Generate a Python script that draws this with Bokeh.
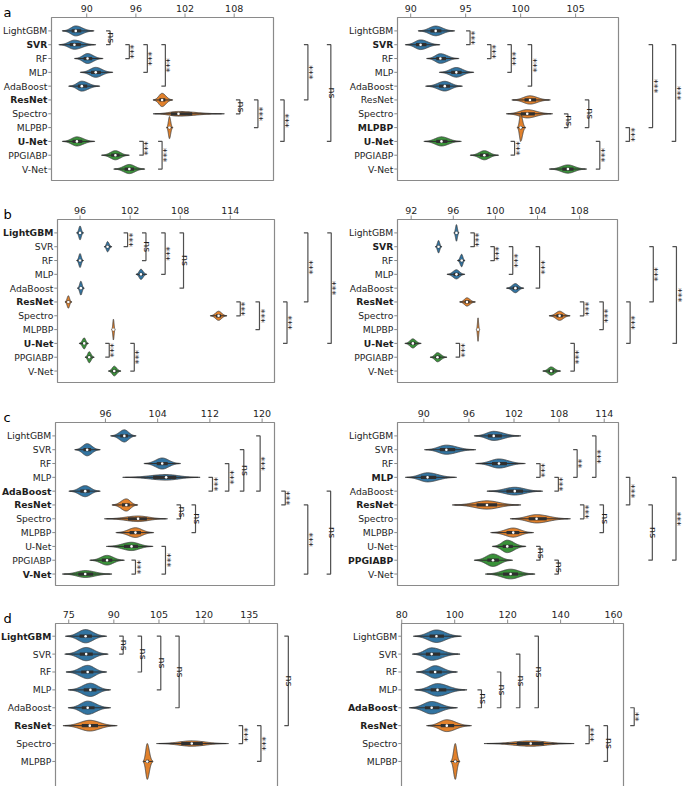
import numpy as np
from bokeh.plotting import figure
from bokeh.models import Range1d, ColumnDataSource
from bokeh.layouts import gridplot
from bokeh.embed import file_html
from bokeh.resources import INLINE
from bokeh.core.properties import value

MODELS = ["LightGBM", "SVR", "RF", "MLP", "AdaBoost", "ResNet", "Spectro",
          "MLPBP", "U-Net", "PPGIABP", "V-Net"]
GROUP = [0, 0, 0, 0, 0, 1, 1, 1, 2, 2, 2]

# ---------------- panel a, left ----------------
a1_ticks = [90, 96, 102, 108]
a1_xlim = [85.7, 112.8]
a1_med = [88.66, 88.5, 90.1, 91.1, 89.4, 99.2, 101.2, 100.1, 88.8, 93.5, 95.2]
a1_lo = [87.0, 86.6, 88.5, 89.2, 87.8, 98.1, 98.1, 99.75, 87.0, 91.8, 93.3]
a1_hi = [90.9, 91.1, 92.0, 93.2, 91.6, 100.5, 106.8, 100.5, 91.0, 95.2, 97.1]
a1_hw = [0.36, 0.33, 0.36, 0.36, 0.36, 0.48, 0.17, 0.8, 0.33, 0.33, 0.33]
a1_bold = ["SVR", "ResNet", "U-Net"]
a1_pairs = [(0, 1), (1, 2), (1, 3), (1, 4), (5, 6), (5, 7), (5, 8), (1, 5), (1, 8), (8, 9), (8, 10)]
a1_bx = [92.85, 95.2, 97.4, 99.6, 108.7, 110.9, 114.1, 117.0, 119.8, 96.9, 99.2]
a1_sig = ["ns", "***", "***", "***", "ns", "***", "***", "***", "ns", "***", "***"]

# ---------------- panel a, right ----------------
a2_ticks = [90, 95, 100, 105]
a2_xlim = [88.8, 108.9]
a2_med = [92.27, 90.9, 92.7, 94.15, 93.1, 100.85, 100.6, 100.0, 92.8, 96.7, 104.3]
a2_lo = [90.67, 89.5, 91.45, 92.6, 91.36, 99.2, 98.7, 99.7, 91.2, 95.4, 102.6]
a2_hi = [94.0, 92.67, 94.4, 95.75, 94.7, 102.7, 102.9, 100.45, 94.6, 98.0, 106.0]
a2_hw = [0.35, 0.35, 0.35, 0.35, 0.35, 0.3, 0.3, 1.0, 0.33, 0.33, 0.3]
a2_bold = ["SVR", "MLPBP", "U-Net"]
a2_pairs = [(0, 1), (1, 2), (1, 3), (1, 4), (6, 7), (5, 7), (7, 8), (1, 7), (1, 8), (8, 9), (8, 10)]
a2_bx = [95.4, 97.3, 99.15, 101.0, 104.3, 106.2, 109.9, 112.0, 114.1, 99.45, 107.2]
a2_sig = ["***", "***", "***", "***", "ns", "ns", "***", "***", "***", "***", "***"]

# ---------------- panel b, left ----------------
b1_ticks = [96, 102, 108, 114]
b1_xlim = [93.3, 119.3]
b1_med = [96.0, 99.3, 96.0, 103.3, 96.1, 94.6, 112.6, 100.0, 96.5, 97.1, 100.1]
b1_lo = [95.6, 98.9, 95.6, 102.7, 95.7, 94.2, 111.6, 99.8, 95.9, 96.6, 99.4]
b1_hi = [96.4, 99.8, 96.4, 104.0, 96.5, 95.0, 113.6, 100.2, 97.0, 97.7, 100.9]
b1_hw = [0.5, 0.37, 0.5, 0.37, 0.5, 0.45, 0.33, 0.75, 0.4, 0.4, 0.35]
b1_bold = ["LightGBM", "ResNet", "U-Net"]
b1_pairs = [(0, 1), (0, 2), (0, 3), (0, 4), (5, 6), (5, 7), (5, 8), (0, 5), (0, 8), (8, 9), (8, 10)]
b1_bx = [101.7, 103.9, 106.2, 108.4, 115.2, 117.5, 120.8, 123.3, 126.1, 99.5, 102.5]
b1_sig = ["***", "ns", "***", "ns", "***", "***", "***", "***", "***", "***", "***"]

# ---------------- panel b, right ----------------
b2_ticks = [92, 96, 100, 104, 108]
b2_xlim = [90.7, 111.6]
b2_med = [96.3, 94.6, 96.8, 96.3, 101.9, 97.3, 106.1, 98.35, 92.16, 94.5, 105.3]
b2_lo = [96.06, 94.3, 96.4, 95.4, 101.05, 96.6, 105.1, 98.2, 91.4, 93.8, 104.5]
b2_hi = [96.54, 94.9, 97.1, 97.1, 102.7, 98.1, 107.1, 98.5, 92.95, 95.4, 106.2]
b2_hw = [0.6, 0.45, 0.45, 0.33, 0.33, 0.3, 0.33, 0.85, 0.33, 0.33, 0.3]
b2_bold = ["SVR", "ResNet", "U-Net"]
b2_pairs = [(0, 1), (1, 2), (1, 3), (1, 4), (5, 6), (5, 7), (5, 8), (1, 5), (1, 8), (8, 9), (8, 10)]
b2_bx = [98.0, 99.9, 101.65, 104.2, 108.4, 110.25, 112.8, 115.0, 117.2, 96.6, 107.5]
b2_sig = ["***"] * 11

# ---------------- panel c, left ----------------
c1_ticks = [96, 104, 112, 120]
c1_xlim = [88.35, 121.9]
c1_med = [98.9, 93.2, 104.7, 105.3, 92.9, 99.2, 101.0, 100.6, 100.0, 96.25, 92.9]
c1_lo = [96.8, 91.3, 101.9, 98.65, 90.4, 97.0, 95.85, 97.6, 96.15, 93.6, 89.4]
c1_hi = [100.7, 95.2, 107.5, 110.5, 95.2, 100.95, 105.5, 103.4, 103.3, 98.9, 97.0]
c1_hw = [0.44, 0.44, 0.4, 0.2, 0.4, 0.44, 0.2, 0.35, 0.3, 0.35, 0.25]
c1_bold = ["AdaBoost", "ResNet", "V-Net"]
c1_pairs = [(3, 4), (2, 4), (1, 4), (0, 4), (4, 5), (5, 6), (5, 7), (5, 10), (4, 10), (9, 10), (8, 10)]
c1_bx = [112.4, 114.9, 117.2, 119.7, 123.55, 107.5, 109.8, 127.0, 130.5, 100.6, 105.2]
c1_sig = ["***", "***", "ns", "***", "***", "ns", "ns", "***", "ns", "***", "***"]

# ---------------- panel c, right ----------------
c2_ticks = [90, 96, 102, 108, 114]
c2_xlim = [86.5, 115.9]
c2_med = [99.3, 93.0, 100.0, 90.5, 102.1, 98.4, 105.0, 101.9, 101.1, 99.2, 101.55]
c2_lo = [96.7, 90.1, 96.9, 87.55, 98.4, 93.8, 101.5, 98.9, 99.1, 96.7, 98.2]
c2_hi = [102.9, 96.9, 103.5, 94.35, 105.8, 102.9, 109.5, 104.6, 103.6, 101.8, 104.8]
c2_hw = [0.33, 0.33, 0.33, 0.33, 0.28, 0.3, 0.3, 0.33, 0.45, 0.45, 0.35]
c2_bold = ["MLP", "ResNet", "PPGIABP"]
c2_pairs = [(2, 3), (3, 4), (1, 3), (0, 3), (3, 5), (5, 6), (5, 7), (5, 9), (3, 9), (8, 9), (9, 10)]
c2_bx = [105.47, 107.9, 110.4, 112.9, 117.4, 111.3, 113.9, 120.4, 123.55, 105.47, 107.9]
c2_sig = ["***", "***", "**", "***", "***", "***", "ns", "ns", "***", "ns", "ns"]

# ---------------- panel d, left ----------------
d1_ticks = [75, 90, 105, 120, 135]
d1_xlim = [70.6, 144.4]
d1_med = [80.6, 80.8, 81.3, 82.2, 81.3, 82.0, 115.9, 101.1]
d1_lo = [73.9, 73.7, 74.1, 74.8, 74.8, 73.1, 104.2, 99.7]
d1_hi = [87.6, 88.1, 87.6, 88.9, 88.9, 91.1, 128.1, 103.0]
d1_hw = [0.37, 0.37, 0.37, 0.37, 0.37, 0.3, 0.15, 1.0]
d1_bold = ["LightGBM", "ResNet"]
d1_pairs = [(0, 1), (0, 2), (0, 3), (0, 4), (5, 6), (5, 7), (0, 5)]
d1_bx = [93.1, 99.2, 105.6, 111.7, 132.8, 138.9, 148.0]
d1_sig = ["ns", "ns", "ns", "ns", "***", "***", "ns"]

# ---------------- panel d, right ----------------
d2_ticks = [80, 100, 120, 140, 160]
d2_xlim = [79.9, 163.75]
d2_med = [93.1, 91.3, 92.6, 93.5, 91.3, 97.0, 128.7, 100.2]
d2_lo = [84.4, 84.0, 85.5, 84.9, 82.8, 89.4, 111.1, 98.5]
d2_hi = [102.5, 102.0, 101.0, 104.6, 101.0, 106.3, 145.1, 101.9]
d2_hw = [0.35, 0.35, 0.35, 0.35, 0.35, 0.33, 0.15, 1.0]
d2_bold = ["AdaBoost", "ResNet"]
d2_pairs = [(3, 4), (2, 4), (1, 4), (0, 4), (4, 5), (5, 6), (5, 7)]
d2_bx = [110.1, 117.4, 124.6, 131.6, 167.8, 150.8, 157.7]
d2_sig = ["ns", "ns", "ns", "ns", "**", "***", "ns"]

# ---------------- styling / layout ----------------
FONT = "DejaVu Sans"
FS_X = "9.5px"
FS_Y = "9.2px"
COLORS = ["#3274a1", "#e1812c", "#3a923a"]
EDGE = "#3d3d3d"
BOXC = "#8a8a8a"
BRC = "#505050"
TXT = "#1e1e1e"

FIG_W = [340, 345]
ROW_H = [202, 203, 201, 180]
MBT = 17          # space above the axes box
FRAME_H = 163     # height of the axes box
MBL = [[51, 57], [57, 57], [55, 57], [55, 61]]   # space left of the axes box
BOX_PX = [[222, 221], [217, 220], [219, 221], [222, 222]]
YLIM11 = [-0.97, 10.83]
YLIM8 = [-0.71, 8.4]
TICK_X, STAND_X = 4.0, 2.0
TICK_Y, STAND_Y = 3.2, 1.0


def make_panel(spec, r, c):
    n = len(spec["med"])
    names = MODELS[:n]
    xmin, xmax = spec["xlim"]
    ytop, ybot = YLIM11 if n == 11 else YLIM8
    fw = FIG_W[c]
    fh = ROW_H[r]
    mbl = MBL[r][c]
    ppu = BOX_PX[r][c] / (xmax - xmin)       # px per x unit
    ppy = FRAME_H / (ybot - ytop)             # px per row
    x0 = xmin - mbl / ppu
    x1 = x0 + fw / ppu
    y_top = ytop - MBT / ppy
    y_bot = y_top + fh / ppy
    p = figure(width=fw, height=fh,
               x_range=Range1d(x0, x1), y_range=Range1d(y_bot, y_top),
               x_axis_location=None, y_axis_location=None,
               output_backend="svg", toolbar_location=None, min_border=0)
    p.outline_line_color = None
    p.grid.visible = False

    # axes box
    p.quad(left=[xmin], right=[xmax], top=[ytop], bottom=[ybot], fill_color=None,
           line_color=BOXC, line_width=1.2)

    # top (x) ticks and labels
    xt = spec["ticks"]
    p.segment(x0=xt, x1=xt, y0=[ytop] * len(xt), y1=[ytop - TICK_X / ppy] * len(xt),
              line_color=BOXC, line_width=1)
    p.text(x=xt, y=[ytop - (TICK_X + STAND_X) / ppy] * len(xt), text=[str(t) for t in xt],
           text_align="center", text_baseline="bottom", text_font=value(FONT),
           text_font_size=FS_X, text_color=TXT)

    # left (category) ticks and labels
    ys = list(range(n))
    p.segment(x0=[xmin - TICK_Y / ppu] * n, x1=[xmin] * n, y0=ys, y1=ys,
              line_color=BOXC, line_width=1)
    lab = ColumnDataSource(dict(
        x=[xmin - (TICK_Y + STAND_Y) / ppu] * n, y=ys, t=names,
        st=["bold" if nm in spec["bold"] else "normal" for nm in names]))
    p.text(x="x", y="y", text="t", source=lab, text_font_style="st",
           text_align="right", text_baseline="middle", text_font=value(FONT),
           text_font_size=FS_Y, text_color=TXT)

    # panel letter
    if c == 0:
        p.text(x=[xmin - (mbl - 3) / ppu], y=[ytop - 5.5 / ppy], text=["abcd"[r]],
               text_align="left", text_baseline="alphabetic", text_font=value(FONT),
               text_font_size="13px", text_color="#000000")

    # violins
    vx, vy, vc = [], [], []
    for i in range(n):
        med, lo, hi, hw = spec["med"][i], spec["lo"][i], spec["hi"][i], spec["hw"][i]
        sl = (med - lo) / 2.8
        sr = (hi - med) / 2.8
        x = np.concatenate([np.linspace(lo, med, 40), np.linspace(med, hi, 40)[1:]])
        z = np.where(x < med, (x - med) / sl, (x - med) / sr)
        h = hw * np.exp(-0.5 * z * z)
        vx.append(np.concatenate([x, x[::-1]]))
        vy.append(np.concatenate([i - h, (i + h)[::-1]]))
        vc.append(COLORS[GROUP[i]])
    p.patches(xs=vx, ys=vy, fill_color=vc, line_color=EDGE, line_width=0.8)

    med = np.array(spec["med"])
    lo = np.array(spec["lo"])
    hi = np.array(spec["hi"])
    p.segment(x0=lo + 0.06 * (med - lo), x1=hi - 0.06 * (hi - med), y0=ys, y1=ys,
              line_color="#303030", line_width=1)
    p.segment(x0=med - 0.3 * (med - lo), x1=med + 0.3 * (hi - med), y0=ys, y1=ys,
              line_color="#303030", line_width=3.2)
    p.scatter(x=med, y=ys, size=2.6, fill_color="white", line_color=None)

    # significance brackets
    bxs, bys, tx, ty = [], [], [], []
    tk = 4.0 / ppu
    for (a, b), xr in zip(spec["pairs"], spec["bx"]):
        bxs.append([xr - tk, xr, xr, xr - tk])
        bys.append([a, a, b, b])
        tx.append(xr + 1.6 / ppu)
        ty.append((a + b) / 2)
    p.multi_line(xs=bxs, ys=bys, line_color=BRC, line_width=1.2)
    p.text(x=tx, y=ty, text=spec["sig"], angle=-np.pi / 2, text_align="center",
           text_baseline="alphabetic", text_font=value(FONT), text_font_size=FS_X,
           text_color=TXT)
    return p


def spec_of(t, xl, md, lo, hi, hw, bold, pairs, bx, sig):
    return dict(ticks=t, xlim=xl, med=md, lo=lo, hi=hi, hw=hw, bold=bold,
                pairs=pairs, bx=bx, sig=sig)


specs = [
    [spec_of(a1_ticks, a1_xlim, a1_med, a1_lo, a1_hi, a1_hw, a1_bold, a1_pairs, a1_bx, a1_sig),
     spec_of(a2_ticks, a2_xlim, a2_med, a2_lo, a2_hi, a2_hw, a2_bold, a2_pairs, a2_bx, a2_sig)],
    [spec_of(b1_ticks, b1_xlim, b1_med, b1_lo, b1_hi, b1_hw, b1_bold, b1_pairs, b1_bx, b1_sig),
     spec_of(b2_ticks, b2_xlim, b2_med, b2_lo, b2_hi, b2_hw, b2_bold, b2_pairs, b2_bx, b2_sig)],
    [spec_of(c1_ticks, c1_xlim, c1_med, c1_lo, c1_hi, c1_hw, c1_bold, c1_pairs, c1_bx, c1_sig),
     spec_of(c2_ticks, c2_xlim, c2_med, c2_lo, c2_hi, c2_hw, c2_bold, c2_pairs, c2_bx, c2_sig)],
    [spec_of(d1_ticks, d1_xlim, d1_med, d1_lo, d1_hi, d1_hw, d1_bold, d1_pairs, d1_bx, d1_sig),
     spec_of(d2_ticks, d2_xlim, d2_med, d2_lo, d2_hi, d2_hw, d2_bold, d2_pairs, d2_bx, d2_sig)],
]

rows = [[make_panel(specs[r][c], r, c) for c in range(2)] for r in range(4)]
layout = gridplot(rows, toolbar_location=None)

open("out.html", "w").write(file_html(layout, INLINE))
